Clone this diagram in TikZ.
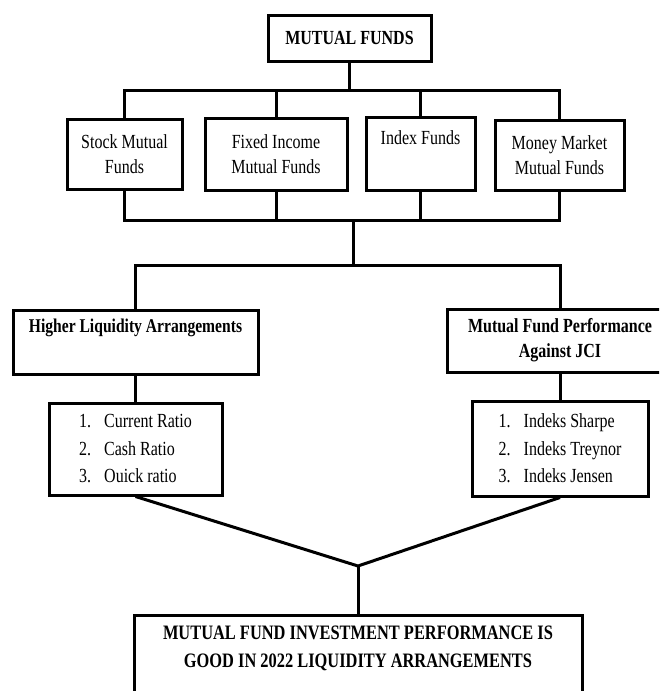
\documentclass[tikz,border=0pt]{standalone}
\usepackage{fontspec}
\setmainfont{Liberation Serif}[FakeStretch=0.8]
\usepackage{tikz}

\begin{document}
\begin{tikzpicture}[x=1pt,y=-1pt,
        fbox/.style={draw, line width=3pt, align=center, inner sep=0pt,
            font=\fontsize{20}{25}\selectfont},
        bbox/.style={fbox, font=\fontsize{20}{25}\selectfont\bfseries},
        lbox/.style={fbox, align=left, font=\fontsize{20}{27.5}\selectfont},
        link/.style={line width=3pt}
    ]
    \useasboundingbox (0,0) rectangle (659,691);
    \clip (0,0) rectangle (659,691);
    \node[bbox, minimum width=163pt, minimum height=46pt] (funds) at (349.5,38) {MUTUAL FUNDS};
    \node[fbox, minimum width=115pt, minimum height=70pt] (stock) at (124.5,154) {Stock Mutual\\Funds};
    \node[fbox, minimum width=142pt, minimum height=72pt] (fixed) at (276,154) {Fixed Income\\Mutual Funds};
    \node[fbox, minimum width=109pt, minimum height=73pt] (index) at (420.5,153.5) {Index Funds\\\strut};
    \node[fbox, minimum width=129pt, minimum height=70pt] (money) at (559.5,155) {Money Market\\Mutual Funds};
    \node[bbox, minimum width=245pt, minimum height=64pt, font=\fontsize{19.5}{25}\selectfont\bfseries] (liquidity) at (135.5,342) {Higher Liquidity Arrangements\\\strut};
    \node[bbox, minimum width=226pt, minimum height=63pt] (perf) at (560,340.5) {Mutual Fund Performance\\Against JCI};
    \node[lbox, minimum width=173pt, minimum height=92pt] (ratios) at (135.5,449)
        {\makebox[25pt][l]{1.}Current Ratio\\\makebox[25pt][l]{2.}Cash Ratio\\\makebox[25pt][l]{3.}Ouick ratio};
    \node[lbox, minimum width=176pt, minimum height=95pt] (indeks) at (560,448.5)
        {\makebox[25pt][l]{1.}Indeks Sharpe\\\makebox[25pt][l]{2.}Indeks Treynor\\\makebox[25pt][l]{3.}Indeks Jensen};
    \node[bbox, minimum width=448pt, minimum height=100pt, font=\fontsize{20.5}{28}\selectfont\bfseries] (result) at (358,665)
        {MUTUAL FUND INVESTMENT PERFORMANCE IS\\GOOD IN 2022 LIQUIDITY ARRANGEMENTS\\\strut};

    \coordinate (topbus) at (350,90.5);
    \coordinate (midbus) at (353,220);
    \coordinate (lowbus) at (353,265);
    \coordinate (join) at (358,566);

    \draw[link] (funds.south) -- (funds.south |- topbus);
    \draw[link] (stock.north) |- (topbus) -| (money.north);
    \draw[link] (fixed.north) -- (fixed.north |- topbus);
    \draw[link] (index.north) -- (index.north |- topbus);
    \draw[link] (stock.south) |- (midbus) -| (money.south);
    \draw[link] (fixed.south) -- (fixed.south |- midbus);
    \draw[link] (index.south) -- (index.south |- midbus);
    \draw[link] (midbus) -- (lowbus);
    \draw[link] (liquidity.north) |- (lowbus) -| (perf.north);
    \draw[link] (liquidity.south) -- (ratios.north);
    \draw[link] (perf.south) -- (indeks.north);
    \draw[link] (ratios.south) -- (join) -- (indeks.south);
    \draw[link] (join) -- (result.north);
\end{tikzpicture}
\end{document}
